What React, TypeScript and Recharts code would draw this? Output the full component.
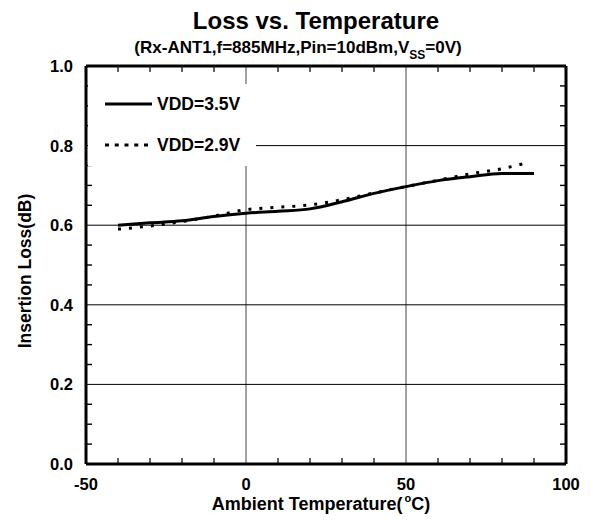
import React from 'react';
import { LineChart, Line, XAxis, YAxis, ReferenceLine, Legend, Label } from 'recharts';

const temp35 = [-40, -30, -20, -10, 0, 10, 20, 30, 40, 50, 60, 70, 80, 90];
const loss35 = [0.600, 0.606, 0.611, 0.622, 0.630, 0.635, 0.641, 0.659, 0.680, 0.697, 0.712, 0.722, 0.730, 0.730];
const temp29 = [-40, -30, -20, -10, 0, 10, 20, 30, 40, 50, 60, 70, 80, 87];
const loss29 = [0.590, 0.598, 0.609, 0.623, 0.639, 0.645, 0.651, 0.664, 0.681, 0.697, 0.713, 0.729, 0.742, 0.755];

const xLabelTicks = [-50, 0, 50, 100];
const xMinorTicks = [-40, -30, -20, -10, 10, 20, 30, 40, 60, 70, 80, 90];
const yLabelTicks = [0, 0.2, 0.4, 0.6, 0.8, 1.0];
const yMinorTicks = [0.05, 0.1, 0.15, 0.25, 0.3, 0.35, 0.45, 0.5, 0.55, 0.65, 0.7, 0.75, 0.85, 0.9, 0.95];
const xGrid = [0, 50];
const yGrid = [0.2, 0.4, 0.6, 0.8];

const data35 = temp35.map((t, i) => ({ t, v: loss35[i] }));
const data29 = temp29.map((t, i) => ({ t, v: loss29[i] }));

const FONT = '"Liberation Sans", Arial, Helvetica, sans-serif';
const TL = 6;

// Draws the inward minor ticks on all four plot edges with the chart's own scales.
const MinorTicks = (props: any) => {
  const { xAxisMap, yAxisMap, offset } = props;
  const xa: any = xAxisMap ? Object.values(xAxisMap)[0] : null;
  const ya: any = yAxisMap ? Object.values(yAxisMap)[0] : null;
  if (!xa || !ya || !offset) return null;
  const sx = (v: number) => xa.scale(v);
  const sy = (v: number) => ya.scale(v);
  const left = offset.left;
  const right = offset.left + offset.width;
  const top = offset.top;
  const bottom = offset.top + offset.height;
  return (
    <g>
      {xMinorTicks.map((t) => (
        <g key={'x' + t}>
          <line x1={sx(t)} x2={sx(t)} y1={bottom} y2={bottom - TL} stroke="#222" strokeWidth={1.4} />
          <line x1={sx(t)} x2={sx(t)} y1={top} y2={top + TL} stroke="#222" strokeWidth={1.4} />
        </g>
      ))}
      {yMinorTicks.map((v) => (
        <g key={'y' + v}>
          <line x1={left} x2={left + TL} y1={sy(v)} y2={sy(v)} stroke="#000" strokeWidth={1.4} />
          <line x1={right} x2={right - TL} y1={sy(v)} y2={sy(v)} stroke="#000" strokeWidth={1.4} />
        </g>
      ))}
    </g>
  );
};

const BottomTick = (props: any) => {
  const { x, y, payload } = props;
  return (
    <text x={x} y={y + 25.5} textAnchor="middle" fontFamily={FONT} fontWeight="bold" fontSize={16.5} fill="#000">
      {payload.value}
    </text>
  );
};

const LeftTick = (props: any) => {
  const { x, y, payload } = props;
  return (
    <text x={x - 13} y={y} dy="0.36em" textAnchor="end" fontFamily={FONT} fontWeight="bold" fontSize={16.5} fill="#000">
      {Number(payload.value).toFixed(1)}
    </text>
  );
};

const XTitle = (props: any) => {
  const vb = props.viewBox || {};
  const cx = vb.x + vb.width / 2;
  return (
    <text x={cx - 5} y={vb.y + 46} textAnchor="middle" fontFamily={FONT} fontWeight="bold" fontSize={18} fill="#000">
      Ambient Temperature(
      <tspan fontSize={11} dy={-8} dx={2}>o</tspan>
      <tspan dy={8}>C)</tspan>
    </text>
  );
};

const YTitle = (props: any) => {
  const vb = props.viewBox || {};
  const cy = vb.y + vb.height / 2;
  const cx = 25;
  return (
    <text
      x={cx}
      y={cy + 6}
      transform={`rotate(-90, ${cx}, ${cy + 6})`}
      textAnchor="middle"
      dy="0.36em"
      fontFamily={FONT}
      fontWeight="bold"
      fontSize={17.5}
      fill="#000"
    >
      Insertion Loss(dB)
    </text>
  );
};

const YAxisWithTicks = (props: any) => {
  // custom tick for the right axis: draws inward tick marks at its own tick values
  const { x, y, payload } = props;
  const v = payload.value;
  if (v <= 0.001 || v >= 0.999) return <g />;
  return <line x1={x} x2={x - TL} y1={y} y2={y} stroke="#000" strokeWidth={1.4} />;
};

const TopAxisTick = (props: any) => {
  const { x, y, payload } = props;
  const v = payload.value;
  if (v <= -49.9 || v >= 99.9 || v === 0 || v === 50) return <g />;
  return <line x1={x} x2={x} y1={y} y2={y + TL} stroke="#222" strokeWidth={1.4} />;
};

const renderLegend = () => (
  <svg width={168} height={82} style={{ display: 'block' }}>
    <rect x={0} y={0} width={168} height={82} fill="#fff" />
    <line x1={17} x2={64} y1={20} y2={20} stroke="#000" strokeWidth={3} />
    <text x={69} y={20} dy="0.36em" fontFamily={FONT} fontWeight="bold" fontSize={17.5} fill="#000">
      VDD=3.5V
    </text>
    <line x1={17} x2={64} y1={61} y2={61} stroke="#000" strokeWidth={3} strokeDasharray="4 5.75" />
    <text x={69} y={61} dy="0.36em" fontFamily={FONT} fontWeight="bold" fontSize={17.5} fill="#000">
      VDD=2.9V
    </text>
  </svg>
);

const allXTicks = [-50, ...xMinorTicks, 100];
const allYTicks = [0, ...yMinorTicks, 1];

export default function App() {
  return (
    <div style={{ position: 'absolute', left: 0, top: 0, width: 590, height: 525, background: '#fff' }}>
      <svg width={590} height={70} style={{ position: 'absolute', left: 0, top: 0 }}>
        <text x={316} y={29} textAnchor="middle" fontFamily={FONT} fontWeight="bold" fontSize={24} fill="#000">
          Loss vs. Temperature
        </text>
        <text x={298} y={53} textAnchor="middle" fontFamily={FONT} fontWeight="bold" fontSize={17} fill="#000">
          (Rx-ANT1,f=885MHz,Pin=10dBm,V
          <tspan fontSize={12} dy={6}>SS</tspan>
          <tspan dy={-6}>=0V)</tspan>
        </text>
      </svg>
      <div style={{ position: 'absolute', left: 0, top: 0 }}>
        <LineChart width={590} height={525} margin={{ top: 65, right: 23, bottom: 60, left: 85 }}>
          <XAxis
            xAxisId="b"
            type="number"
            dataKey="t"
            domain={[-50, 100]}
            ticks={xLabelTicks}
            interval={0}
            orientation="bottom"
            height={1}
            tickSize={0}
            tickMargin={0}
            tickLine={false}
            tick={<BottomTick />}
            axisLine={{ stroke: '#000', strokeWidth: 3 }}
            allowDataOverflow
          >
            <Label content={<XTitle />} />
          </XAxis>
          <XAxis
            xAxisId="t"
            type="number"
            dataKey="t"
            domain={[-50, 100]}
            orientation="top"
            height={1}
            ticks={allXTicks}
            interval={0}
            tickSize={0}
            tickMargin={0}
            tickLine={false}
            tick={<TopAxisTick />}
            axisLine={{ stroke: '#000', strokeWidth: 3 }}
            allowDataOverflow
          />
          <YAxis
            yAxisId="l"
            type="number"
            domain={[0, 1]}
            ticks={yLabelTicks}
            interval={0}
            orientation="left"
            width={1}
            tickSize={0}
            tickMargin={0}
            tickLine={false}
            tick={<LeftTick />}
            axisLine={{ stroke: '#000', strokeWidth: 3 }}
            allowDataOverflow
          >
            <Label content={<YTitle />} />
          </YAxis>
          <YAxis
            yAxisId="r"
            type="number"
            domain={[0, 1]}
            orientation="right"
            width={1}
            ticks={allYTicks}
            interval={0}
            tickSize={0}
            tickMargin={0}
            tickLine={false}
            tick={<YAxisWithTicks />}
            axisLine={{ stroke: '#000', strokeWidth: 3 }}
            allowDataOverflow
          />
          {xGrid.map((g) => (
            <ReferenceLine key={'x' + g} x={g} xAxisId="b" yAxisId="l" stroke="#444" strokeWidth={1} />
          ))}
          {yGrid.map((g) => (
            <ReferenceLine key={'y' + g} y={g} xAxisId="b" yAxisId="l" stroke="#000" strokeWidth={1} />
          ))}
          {xMinorTicks.map((t) => (
            <ReferenceLine
              key={'bt' + t}
              x={t}
              xAxisId="b"
              yAxisId="l"
              stroke="#222"
              strokeWidth={1.4}
              strokeDasharray="6 1000"
              ifOverflow="visible"
            />
          ))}
          {yMinorTicks.map((v) => (
            <ReferenceLine
              key={'lt' + v}
              y={v}
              xAxisId="b"
              yAxisId="l"
              stroke="#000"
              strokeWidth={1.4}
              strokeDasharray="6 1000"
              ifOverflow="visible"
            />
          ))}
          <Line
            xAxisId="b"
            yAxisId="l"
            data={data35}
            dataKey="v"
            type="monotone"
            stroke="#000"
            strokeWidth={3}
            dot={false}
            isAnimationActive={false}
            name="VDD=3.5V"
          />
          <Line
            xAxisId="b"
            yAxisId="l"
            data={data29}
            dataKey="v"
            type="monotone"
            stroke="#000"
            strokeWidth={3}
            strokeDasharray="3 8"
            dot={false}
            isAnimationActive={false}
            name="VDD=2.9V"
          />
          <Legend
            layout="vertical"
            verticalAlign="middle"
            align="center"
            content={renderLegend}
            wrapperStyle={{ position: 'absolute', left: 88, top: 84, width: 168, height: 82, background: '#fff' }}
          />
        </LineChart>
      </div>
    </div>
  );
}
